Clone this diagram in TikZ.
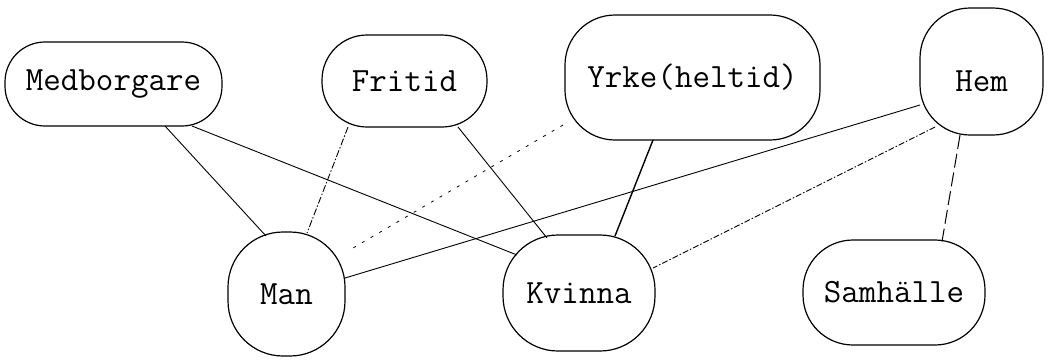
\documentclass[tikz,border=0pt]{standalone}
\usepackage{fontspec}
\begin{document}
\begin{tikzpicture}[x=1pt,y=-1pt,
  blob/.style={draw,line width=1.2pt,inner sep=0pt,font=\fontsize{34}{38}\selectfont\ttfamily},
  thinline/.style={line width=0.9pt},
  dashdot/.style={line width=0.9pt,dash pattern=on 7pt off 2pt on 1.5pt off 2pt},
  sparse/.style={line width=0.8pt,dash pattern=on 3pt off 7pt},
  dense/.style={line width=0.9pt,dash pattern=on 6pt off 2pt on 1.5pt off 2pt},
  longdash/.style={line width=1pt,dash pattern=on 14pt off 5pt}]
\useasboundingbox (0,0) rectangle (1048,360);
\node[blob,minimum width=217pt,minimum height=84pt,rounded corners=40pt] (med) at (113.5,84) {Medborgare};
\node[blob,minimum width=165pt,minimum height=92pt,rounded corners=45pt] (fri) at (404.5,81) {Fritid};
\node[blob,minimum width=255pt,minimum height=125pt,rounded corners=50pt] (yrk) at (692.5,77.5) {Yrke(heltid)};
\node[blob,minimum width=123pt,minimum height=127pt,rounded corners=50pt] (hem) at (981.5,71.5) {\raisebox{-20pt}[0pt][0pt]{Hem}};
\node[blob,minimum width=117pt,minimum height=124pt,rounded corners=55pt] (man) at (286.5,294) {Man};
\node[blob,minimum width=152pt,minimum height=116pt,rounded corners=55pt] (kvi) at (579,293) {Kvinna};
\node[blob,minimum width=182pt,minimum height=105pt,rounded corners=50pt] (sam) at (894,292.5) {Samhälle};
\draw[thinline] ([shift={(51.5,42)}]med.center) -- ([shift={(-20.5,-58)}]man.center);
\draw[thinline] ([shift={(78.5,42)}]med.center) -- ([shift={(-62,-38)}]kvi.center);
\draw[dashdot] ([shift={(-56.5,46)}]fri.center) -- ([shift={(20.5,-61)}]man.center);
\draw[thinline] ([shift={(53.5,46)}]fri.center) -- ([shift={(-32,-55)}]kvi.center);
\draw[sparse] ([shift={(-129.5,47.5)}]yrk.center) -- ([shift={(66.5,-46)}]man.center);
\draw[line width=1.4pt] ([shift={(-39.5,62.5)}]yrk.center) -- ([shift={(36,-57)}]kvi.center);
\draw[thinline] ([shift={(-61.5,33.5)}]hem.center) -- ([shift={(58.5,-16)}]man.center);
\draw[dense] ([shift={(-46.5,55.5)}]hem.center) -- ([shift={(74,-25)}]kvi.center);
\draw[longdash] ([shift={(-21.5,63.5)}]hem.center) -- ([shift={(48,-51)}]sam.center);
\end{tikzpicture}
\end{document}
